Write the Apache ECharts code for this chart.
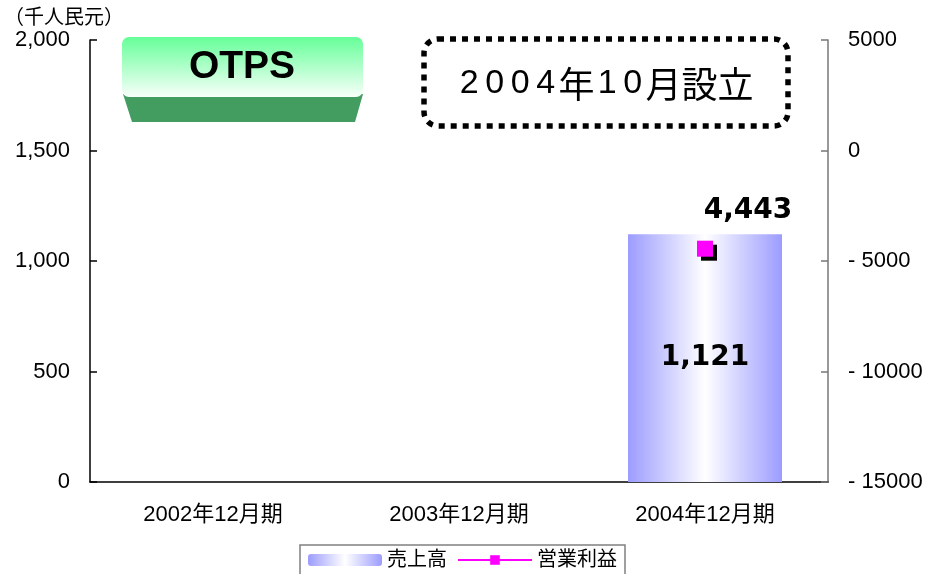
<!DOCTYPE html>
<html>
<head>
<meta charset="utf-8">
<script src="https://cdn.jsdelivr.net/npm/echarts@6/dist/echarts.min.js"></script>
<style>
  html, body { margin: 0; padding: 0; background: #fff; }
  #chart { width: 927px; height: 574px; }
</style>
</head>
<body>
<div id="chart"></div>
<script>
// 期別
const categories = ['2002年12月期', '2003年12月期', '2004年12月期']
// 売上高（千人民元）
const sales = [null, null, 1121]
// 営業利益（千人民元）
const operatingProfit = [null, null, -4443]

const font = "'Liberation Sans', 'Noto Sans CJK JP', sans-serif"
const fmt = (v) => Math.abs(v).toLocaleString('en-US')

const chart = echarts.init(document.getElementById('chart'))

// 設立注記：1文字ずつ rich で字間をあける
const noteText = '2004年10月設立'
  .split('')
  .map((ch) => (/[0-9]/.test(ch) ? '{d|' + ch + '}' : '{c|' + ch + '}'))
  .join('')

const options = {
  backgroundColor: '#fff',
  animation: false,
  grid: {
    left: 90,
    right: 99,
    top: 40,
    bottom: 92
  },
  legend: {
    left: 300,
    top: 545,
    padding: [5, 8, 30, 8],
    borderColor: '#808080',
    borderWidth: 1.5,
    backgroundColor: '#fff',
    itemWidth: 74,
    itemHeight: 12,
    itemGap: 10,
    textStyle: { fontSize: 20, color: '#000', fontFamily: font },
    data: ['売上高', '営業利益']
  },
  xAxis: {
    type: 'category',
    data: categories,
    axisLine: { lineStyle: { color: '#000', width: 1.5 } },
    axisTick: { inside: true, length: 7, lineStyle: { color: '#000', width: 1.5 } },
    axisLabel: { fontSize: 22, color: '#000', margin: 22, fontFamily: font }
  },
  yAxis: [
    {
      type: 'value',
      min: 0,
      max: 2000,
      interval: 500,
      splitLine: { show: false },
      axisLine: { show: true, lineStyle: { color: '#000', width: 1.5 } },
      axisTick: { show: true, inside: true, length: 7, lineStyle: { color: '#000', width: 1.5 } },
      axisLabel: {
        fontSize: 22,
        color: '#000',
        margin: 20,
        fontFamily: font,
        formatter: (v) => v.toLocaleString('en-US')
      }
    },
    {
      type: 'value',
      min: -15000,
      max: 5000,
      interval: 5000,
      splitLine: { show: false },
      axisLine: { show: true, lineStyle: { color: '#777', width: 1.5 } },
      axisTick: { show: true, inside: true, length: 7, lineStyle: { color: '#777', width: 1.5 } },
      axisLabel: {
        fontSize: 22,
        color: '#000',
        margin: 20,
        fontFamily: font,
        formatter: (v) => (v < 0 ? '- ' + Math.abs(v) : String(v))
      }
    }
  ],
  series: [
    {
      name: '売上高',
      type: 'bar',
      data: sales,
      barWidth: 154,
      itemStyle: {
        color: new echarts.graphic.LinearGradient(0, 0, 1, 0, [
          { offset: 0, color: '#9c9cff' },
          { offset: 0.5, color: '#ffffff' },
          { offset: 1, color: '#9c9cff' }
        ])
      },
      label: {
        show: true,
        position: 'inside',
        fontSize: 28,
        fontWeight: 'bold',
        color: '#000',
        fontFamily: "'DejaVu Sans', sans-serif",
        formatter: (p) => fmt(p.value)
      }
    },
    {
      name: '営業利益',
      type: 'line',
      yAxisIndex: 1,
      data: operatingProfit,
      symbol: 'rect',
      symbolSize: 16,
      lineStyle: { color: '#ff00ff', width: 3 },
      itemStyle: {
        color: '#ff00ff',
        shadowColor: '#000',
        shadowBlur: 0,
        shadowOffsetX: 4,
        shadowOffsetY: 4
      },
      label: {
        show: true,
        position: 'top',
        offset: [43, -11],
        fontSize: 28,
        fontWeight: 'bold',
        color: '#000',
        fontFamily: "'DejaVu Sans', sans-serif",
        formatter: (p) => fmt(p.value)
      }
    }
  ],
  graphic: [
    {
      type: 'text',
      left: 4,
      top: 6,
      style: { text: '（千人民元）', font: "20px 'Noto Sans CJK JP', sans-serif", fill: '#000' }
    },
    // OTPS ボタン
    {
      type: 'polygon',
      shape: { points: [[123, 94], [363, 94], [355, 122], [132, 122]] },
      style: { fill: '#439c60' }
    },
    {
      type: 'rect',
      shape: { x: 122, y: 37, width: 241, height: 60, r: 7 },
      style: {
        fill: new echarts.graphic.LinearGradient(0, 0, 0, 1, [
          { offset: 0, color: '#66ff99' },
          { offset: 1, color: '#f8fffa' }
        ])
      }
    },
    {
      type: 'text',
      x: 242,
      y: 67,
      style: {
        text: 'OTPS',
        font: "bold 39px 'Liberation Sans', sans-serif",
        fill: '#000',
        align: 'center',
        verticalAlign: 'middle'
      }
    },
    // 設立 注記
    {
      type: 'rect',
      shape: { x: 424, y: 39, width: 364, height: 87, r: 14 },
      style: { fill: 'none', stroke: '#000', lineWidth: 5.5, lineDash: [6, 6] }
    },
    {
      type: 'text',
      x: 605,
      y: 84,
      style: {
        text: noteText,
        fill: '#000',
        align: 'center',
        verticalAlign: 'middle',
        rich: {
          d: {
            fontSize: 34,
            fontFamily: "'Liberation Sans Narrow', 'Liberation Sans', sans-serif",
            padding: [0, 3.3]
          },
          c: {
            fontSize: 36,
            fontFamily: "'Noto Sans CJK JP', sans-serif"
          }
        }
      }
    }
  ]
}

chart.setOption(options)
</script>
</body>
</html>
